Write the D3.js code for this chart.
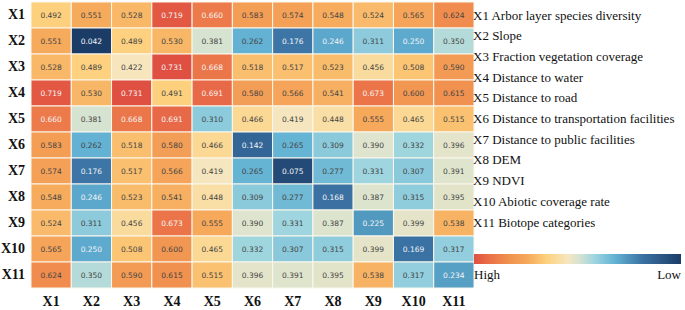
<!DOCTYPE html>
<html>
<head>
<meta charset="utf-8">
<script src="https://cdn.jsdelivr.net/npm/d3@7"></script>
<style>
  html, body { margin: 0; padding: 0; background: #fff; }
</style>
</head>
<body>
<div id="chart-heatmap"></div>
<script>
// ── Data ─────────────────────────────────────
const FACTORS = ["X1","X2","X3","X4","X5","X6","X7","X8","X9","X10","X11"];
const FACTOR_NAMES = [
  "Arbor layer species diversity", "Slope", "Fraction vegetation coverage",
  "Distance to water", "Distance to road", "Distance to transportation facilities",
  "Distance to public facilities", "DEM", "NDVI", "Abiotic coverage rate",
  "Biotope categories"
];
const ROW_X1  = [0.492,0.551,0.528,0.719,0.660,0.583,0.574,0.548,0.524,0.565,0.624];
const ROW_X2  = [0.551,0.042,0.489,0.530,0.381,0.262,0.176,0.246,0.311,0.250,0.350];
const ROW_X3  = [0.528,0.489,0.422,0.731,0.668,0.518,0.517,0.523,0.456,0.508,0.590];
const ROW_X4  = [0.719,0.530,0.731,0.491,0.691,0.580,0.566,0.541,0.673,0.600,0.615];
const ROW_X5  = [0.660,0.381,0.668,0.691,0.310,0.466,0.419,0.448,0.555,0.465,0.515];
const ROW_X6  = [0.583,0.262,0.518,0.580,0.466,0.142,0.265,0.309,0.390,0.332,0.396];
const ROW_X7  = [0.574,0.176,0.517,0.566,0.419,0.265,0.075,0.277,0.331,0.307,0.391];
const ROW_X8  = [0.548,0.246,0.523,0.541,0.448,0.309,0.277,0.168,0.387,0.315,0.395];
const ROW_X9  = [0.524,0.311,0.456,0.673,0.555,0.390,0.331,0.387,0.225,0.399,0.538];
const ROW_X10 = [0.565,0.250,0.508,0.600,0.465,0.332,0.307,0.315,0.399,0.169,0.317];
const ROW_X11 = [0.624,0.350,0.590,0.615,0.515,0.396,0.391,0.395,0.538,0.317,0.234];
const MATRIX = [ROW_X1,ROW_X2,ROW_X3,ROW_X4,ROW_X5,ROW_X6,ROW_X7,ROW_X8,ROW_X9,ROW_X10,ROW_X11];
const SCALE_LABELS = ["High","Low"];

// colour ramp stops (value -> colour)
const STOP_VALUES = [0.042,0.17,0.26,0.33,0.38,0.42,0.49,0.55,0.62,0.68,0.731];
const STOP_COLORS = ["#1c3c68","#3a72a3","#62b1d3","#9dd5df","#d6e3d1","#f6e6bf",
                     "#fdd17e","#f6aa5c","#f08f4e","#ea7048","#df5042"];

(function () {
  const W = 685, H = 310;
  const grid = { left: 31, top: 2, width: 443, height: 286 };
  const serif = "'Liberation Serif','Times New Roman',serif";

  const svg = d3.select("#chart-heatmap").append("svg")
    .attr("width", W).attr("height", H);

  const x = d3.scaleBand().domain(FACTORS).range([grid.left, grid.left + grid.width]);
  const y = d3.scaleBand().domain(FACTORS).range([grid.top, grid.top + grid.height]);
  const color = d3.scaleLinear().domain(STOP_VALUES).range(STOP_COLORS)
    .interpolate(d3.interpolateRgb).clamp(true);

  const cells = [];
  MATRIX.forEach((row, i) => row.forEach((v, j) =>
    cells.push({ r: FACTORS[i], c: FACTORS[j], v })));

  // Cells
  svg.append("g").selectAll("rect").data(cells).join("rect")
    .attr("x", d => x(d.c)).attr("y", d => y(d.r))
    .attr("width", x.bandwidth()).attr("height", y.bandwidth())
    .attr("fill", d => color(d.v))
    .attr("stroke", "#fbf7ee").attr("stroke-width", 1);

  // Values
  svg.append("g").selectAll("text").data(cells).join("text")
    .attr("x", d => x(d.c) + x.bandwidth() / 2)
    .attr("y", d => y(d.r) + y.bandwidth() / 2)
    .attr("dy", "0.35em").attr("text-anchor", "middle")
    .attr("font-family", "'DejaVu Sans',sans-serif").attr("font-size", "7.5px")
    .attr("fill", d => (d.v < 0.255 || d.v > 0.65) ? "#f4f4f4" : "#444")
    .text(d => d3.format(".3f")(d.v));

  // Row axis
  const yAxis = svg.append("g").attr("transform", `translate(${grid.left},0)`)
    .call(d3.axisLeft(y).tickSize(0).tickPadding(6));
  yAxis.select(".domain").remove();
  yAxis.selectAll("text").attr("font-family", serif).attr("font-size", "14px")
    .attr("font-weight", "bold").attr("fill", "#111");

  // Column axis
  const xAxis = svg.append("g").attr("transform", `translate(0,${grid.top + grid.height})`)
    .call(d3.axisBottom(x).tickSize(0).tickPadding(8));
  xAxis.select(".domain").remove();
  xAxis.selectAll("text").attr("font-family", serif).attr("font-size", "14px")
    .attr("font-weight", "bold").attr("fill", "#111");

  // Factor legend
  const legendY = d3.scaleLinear().domain([0, FACTORS.length - 1]).range([15, 222]);
  svg.append("g").selectAll("text").data(FACTORS).join("text")
    .attr("x", 473).attr("y", (d, i) => legendY(i)).attr("dy", "0.35em")
    .attr("font-family", serif).attr("font-size", "13px").attr("fill", "#111")
    .text((d, i) => `${d} ${FACTOR_NAMES[i]}`);

  // Colour bar (High on the left, Low on the right)
  const bar = { x: 474, y: 254, w: 207, h: 10 };
  const grad = svg.append("defs").append("linearGradient").attr("id", "ramp")
    .attr("x1", "0%").attr("x2", "100%");
  const vmin = STOP_VALUES[0], vmax = STOP_VALUES[STOP_VALUES.length - 1];
  const stops = STOP_VALUES.map((v, i) => ({ v, c: STOP_COLORS[i] })).reverse();
  grad.selectAll("stop").data(stops).join("stop")
    .attr("offset", d => ((vmax - d.v) / (vmax - vmin) * 100) + "%")
    .attr("stop-color", d => d.c);
  svg.append("rect").attr("x", bar.x).attr("y", bar.y)
    .attr("width", bar.w).attr("height", bar.h).attr("fill", "url(#ramp)");

  svg.append("text").attr("x", bar.x).attr("y", bar.y + 25)
    .attr("font-family", serif).attr("font-size", "13px").attr("fill", "#111")
    .text(SCALE_LABELS[0]);
  svg.append("text").attr("x", bar.x + bar.w).attr("y", bar.y + 25)
    .attr("text-anchor", "end")
    .attr("font-family", serif).attr("font-size", "13px").attr("fill", "#111")
    .text(SCALE_LABELS[1]);
})();
</script>
</body>
</html>
